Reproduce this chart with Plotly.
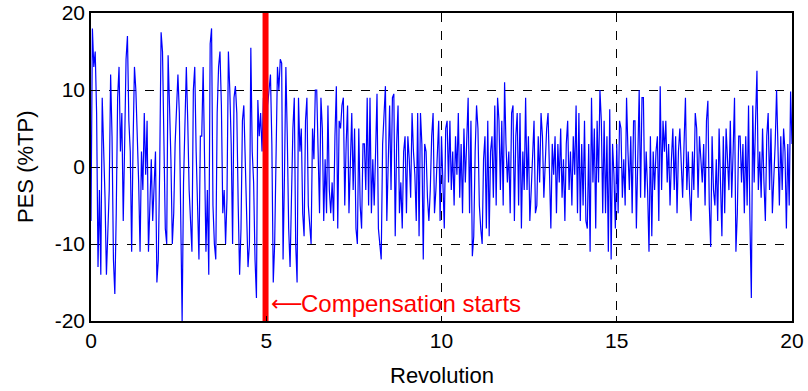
import numpy as np
import plotly.graph_objects as go

# Sample spacing (revolutions per sample)
revolution_step = 0.04

# PES values (%TP), segment by segment
pes_seg1 = [-7, 18, 13, 15, 7, -13, -3, -14, 9, 3, -4, -14, -8, -3, 12, 4, -12, -16.5, -6, 9,
            13, 2, 7, -7, 3, 14, 17, 6, 2, -11, 3, 13, 10, 5, -2, -11, 2, -3, 7, -1,
            6, -11, -5, 1, -7, -2, 2, -15, -12, 0, 17.5, 15, 3, -8, -10, 14.5, 8, 1, -10, -6,
            3, 8]
pes_seg2 = [12, 7, -5, -20, -2, 8, 13, 6, -3, -7, -11, 10, 13, 2, -5, -12, 4, 4, 13, 1,
            -11, -3, -14, 16, 18, -5, -10, -12, 7, 13, 15, 8, -6, -3, -10, -4, 15, 10, 3, -10,
            9, 10.5, 7, -5, -14, -8, 6, 8, 1, -7, -13, -10, 15.5, 2, -2, -12, -17, 8.7, 4, 7,
            2, 9, -4, -10]
pes_seg3 = [8, 10, 12, 3, -15, -10, 3, 13, 10, 14, 13.5, -12, -1, 13, 4, -8, -13, -2, 5, 9,
            -10, -15, 9, 2, 5, -6, -9, 6, 9, -5, -7, -10, 5, 1, 10, 10, 2, -6, 9, 5,
            -7, 1, -6, 8, -3, -6, -2, -7, 4, 10.5, -8, 6, 5, 8, 9, -5, 3, 8, -6, 2,
            7, -3, 5, -8]
pes_seg4 = [-10, 5, -5, -8, 3, 3, -3, 9, -5, 9, -6, 1, -5, 2, 9.5, -8, -10, -12, 3, 7,
            10.5, -7, 3, 8, -3, 9, 9.5, -9, 3, 8, -6, -2, -8, 2, 4, -6, 4, 1, -4, 7,
            2, -1, -7, 7, -9, 7, 3, -12, 3, 2, -4, -7, -3, 4, 7, -6, -3, 1, 6, -7,
            4, -2, -8, 5, 6, -2, 6, -3, 2, -5, 4, -1, 7, -4, 3, -6, 5, -2]
pes_seg5 = [3, 9, -6, 6, -11.6, -9, 2, 8, 5, -5, -8, -10, 1, 4, -8, 6, -9, 2, 4, -4,
            8, -5, 9, 6, -3, 6, -5, 11, 3, -2, 2, -6, 7, 8, -7, 4, 7, -5, 7, -8,
            2, -3, 9, -3, 4, -7, -3, 2, 6, -6, -5, 4, -2, 7, 4, -4, 2, 5, 7, -2,
            -8, 3, -1, 4, -6, 3, -2, 5, -4, 1, -7, 3, 6, -3, 2, -5, 4, -1]
pes_seg6 = [8, -6, 7, -7, 3, -5, 6, -7, -8, 3, -11, 9, -2, 5, -8, 6, -2, 10, 6, -6,
            6, -6, 4, -11, 7.5, -12, 3, -1, -8, 3, -6, 6, 5, -4, 1, -5, 9, 2, -3, 4,
            -6, 6, 6, -8, 2, 10, -4, 9, 9, -4, 2, -3, -11, 4, -9, 2, -3, 2, 4, -7,
            10.5, -3, 6, 2, 6, -2, 3, -5, 1, 5, -3, 4, -6, 2, 5, -1, -4, 3]
pes_seg7 = [9, -3, 2, -3.5, -7, 2, -3, 7, 5, -4, 4, 1, -2, 3, -5, 6, 8.6, -5, -10.4, 4,
            -3, -5, 1, -7, 5, -2, -9, 4, -6, 5, 0, -3, 6, -4, 2, 9, -11, -6, 4, 4,
            -2, 3, -6, 4, -5, 8, -7, -17, 8, -2, 6, 12.5, -3, 2, -4, 5, -2, -7, 4, 7,
            -3, 5, -6, -2, 3, 10, 1, -5, 4, -3, 5, 2, -8, 3, -5, 9.8, 3]

pes = pes_seg1 + pes_seg2 + pes_seg3 + pes_seg4 + pes_seg5 + pes_seg6 + pes_seg7
revolution = np.arange(len(pes)) * revolution_step

compensation_start = 4.98
x_ticks = [0, 5, 10, 15, 20]
y_ticks = [-20, -10, 0, 10, 20]

font_family = "Liberation Sans, Arial, sans-serif"

fig = go.Figure()
fig.add_trace(go.Scatter(x=revolution, y=pes, mode="lines",
                         line=dict(color="#0000ff", width=1.2), showlegend=False))
fig.add_trace(go.Scatter(x=[compensation_start, compensation_start], y=[-20, 20], mode="lines",
                         line=dict(color="#ff0000", width=6), showlegend=False))

# arrow + label
fig.add_annotation(x=compensation_start + 0.1, y=-17.7, xref="x", yref="y",
                   text="\u27f5", showarrow=False, xanchor="left", yanchor="middle",
                   font=dict(color="#ff0000", size=22, family="DejaVu Sans"))
fig.add_annotation(x=compensation_start + 0.95, y=-17.7, xref="x", yref="y",
                   text="Compensation starts", showarrow=False, xanchor="left",
                   yanchor="middle", font=dict(color="#ff0000", size=24, family=font_family))

# axis titles
fig.add_annotation(x=0.5, y=0, xref="paper", yref="paper", yshift=-54,
                   text="Revolution", showarrow=False, xanchor="center", yanchor="middle",
                   font=dict(size=22, color="black", family=font_family))
fig.add_annotation(x=0, y=0.5, xref="paper", yref="paper", xshift=-66,
                   text="PES (%TP)", showarrow=False, textangle=-90,
                   xanchor="center", yanchor="middle",
                   font=dict(size=22, color="black", family=font_family))

axis_common = dict(showline=True, linecolor="black", linewidth=1.5, mirror=True,
                   ticks="inside", ticklen=5, tickcolor="black", automargin=False,
                   showgrid=True, gridcolor="black", griddash="dash", gridwidth=0.8,
                   zeroline=False, tickfont=dict(size=21, color="black", family=font_family))

fig.update_xaxes(range=[0, 20], tickvals=x_ticks, ticktext=[str(v) for v in x_ticks],
                 **axis_common)
fig.update_yaxes(range=[-20, 20], tickvals=y_ticks, ticktext=[str(v) for v in y_ticks],
                 **axis_common)

fig.update_layout(width=808, height=391, margin=dict(l=91, r=16, t=13, b=70),
                  paper_bgcolor="white", plot_bgcolor="white")

fig.write_html("out.html")
